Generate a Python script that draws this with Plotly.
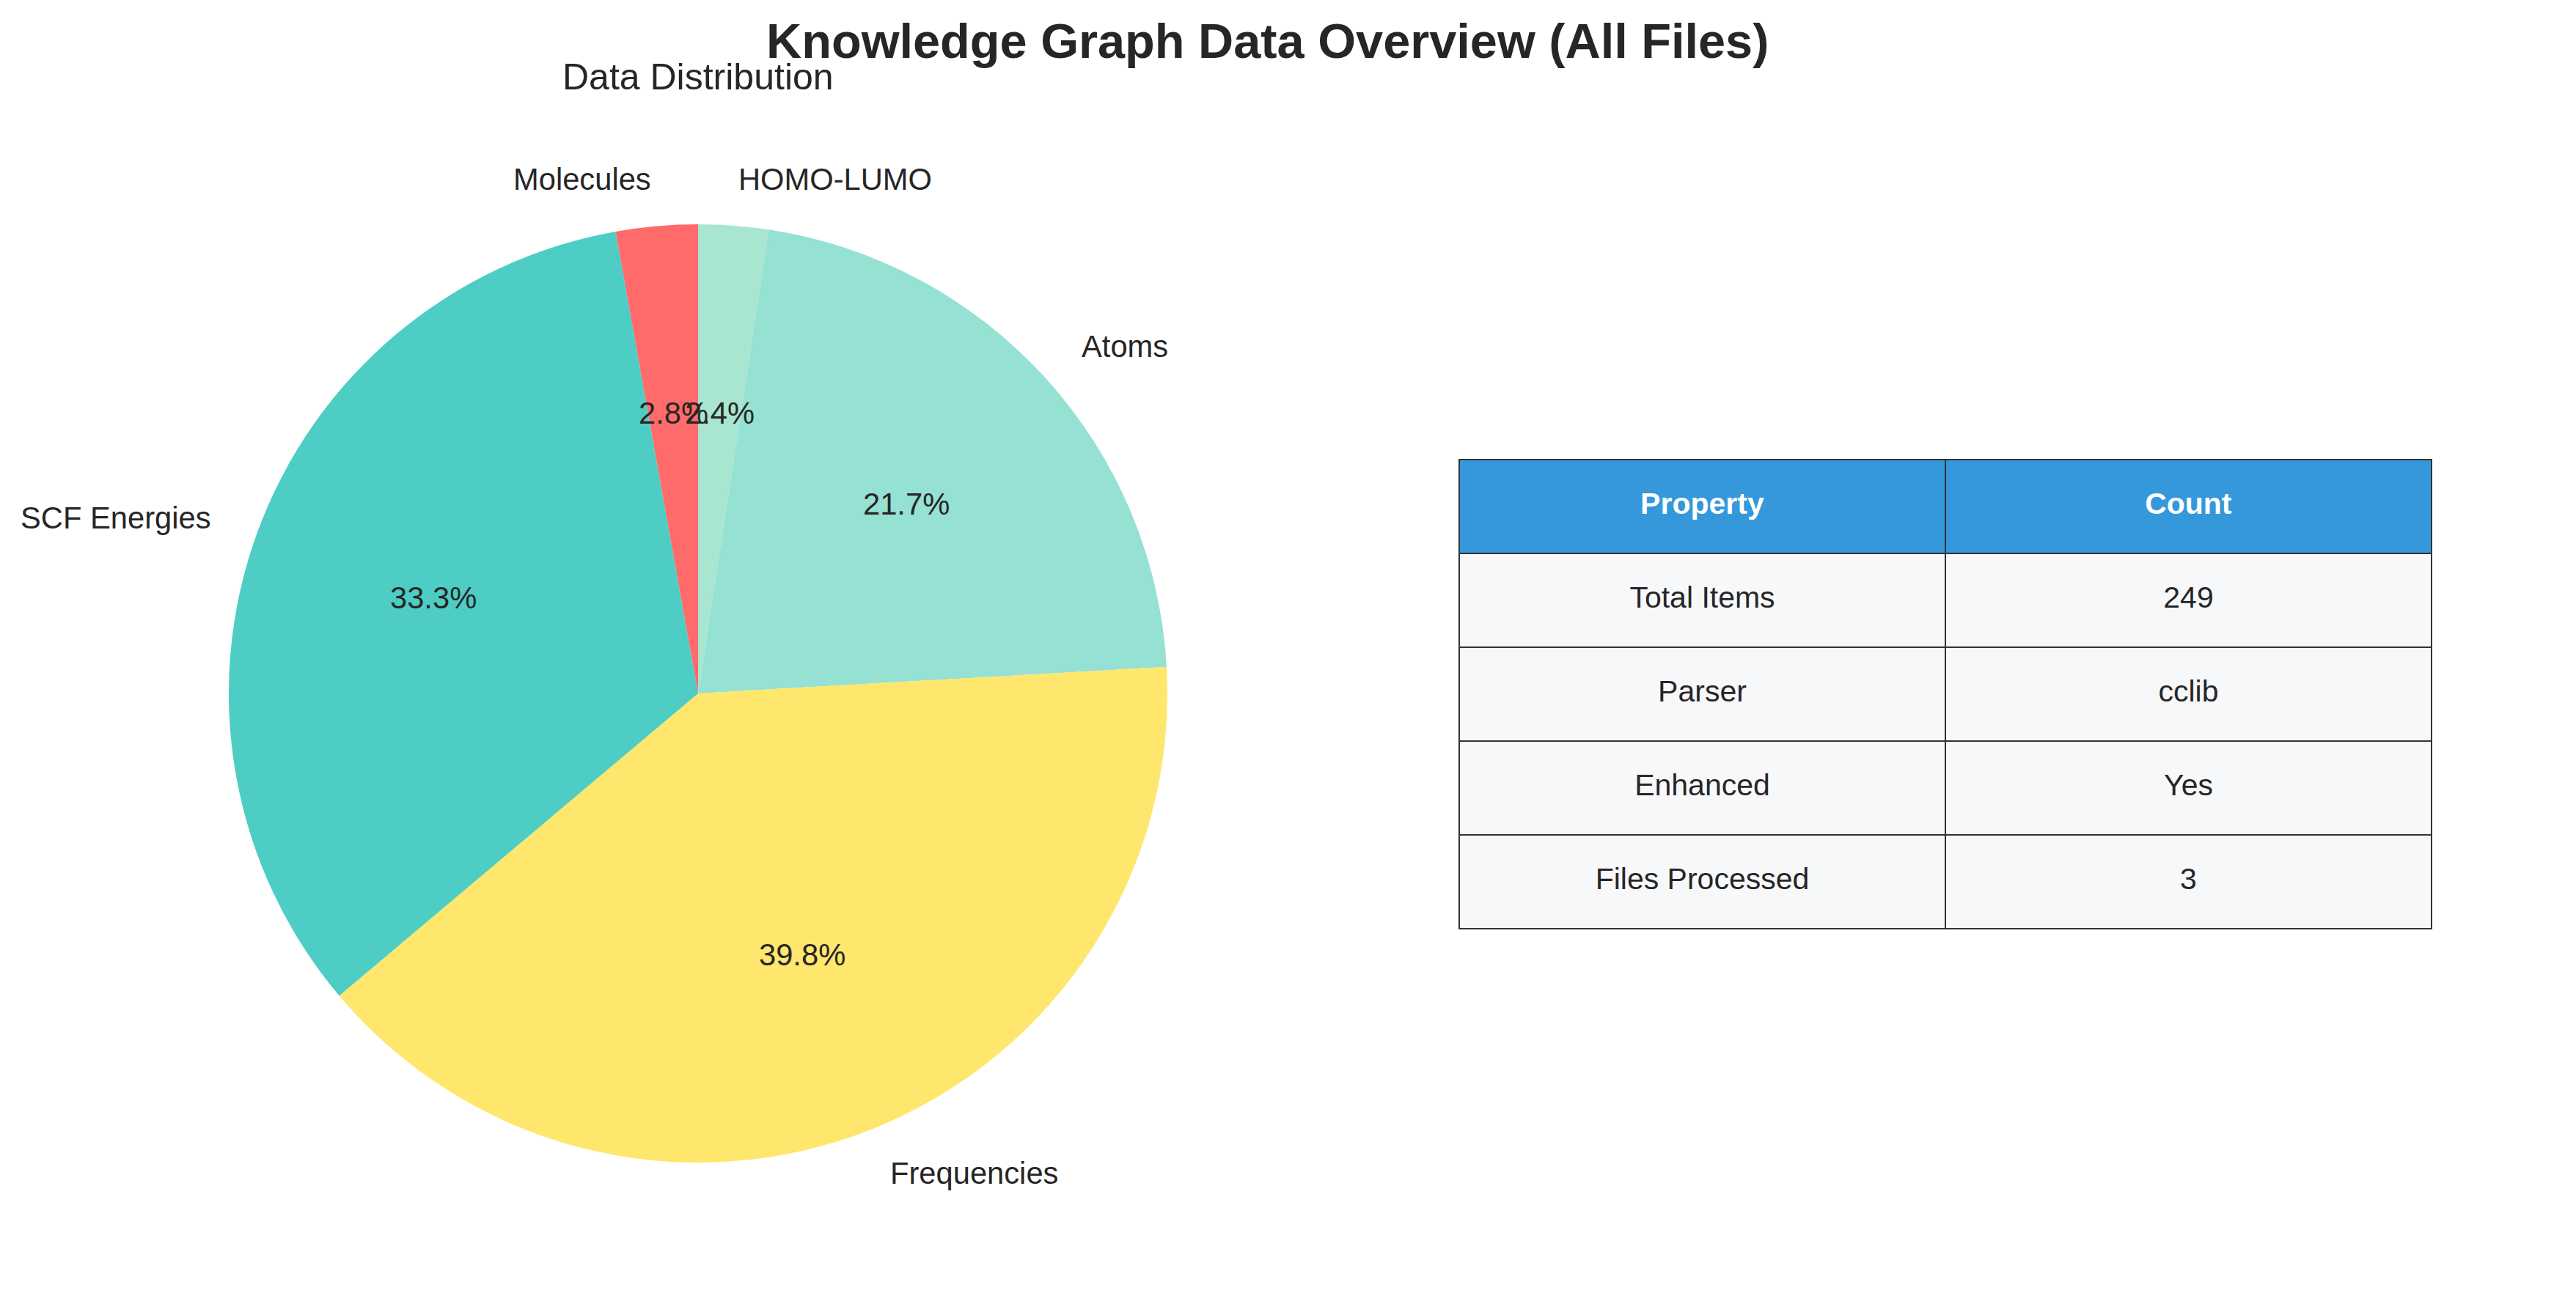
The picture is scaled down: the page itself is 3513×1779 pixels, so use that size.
import math
import plotly.graph_objects as go

W, H = 3513, 1779

categories = ["Molecules", "SCF Energies", "Frequencies", "Atoms", "HOMO-LUMO"]
counts = [7, 83, 99, 54, 6]
colors = ["#FF6B6B", "#4ECDC4", "#FFE66D", "#95E1D3", "#A8E6CF"]

table_props = ["Total Items", "Parser", "Enhanced", "Files Processed"]
table_vals = ["249", "cclib", "Yes", "3"]
table_header = ["Property", "Count"]

FONT = "Liberation Sans, Arial, sans-serif"
TXT = "#262626"

# pie geometry (pixels)
cx, cy, R = 952, 946, 640
dom_x = [(cx - R) / W, (cx + R) / W]
dom_y = [1 - (cy + R) / H, 1 - (cy - R) / H]

fig = go.Figure()
# matplotlib draws counterclockwise from 90 deg; same layout = reversed order clockwise from 12 o'clock
fig.add_trace(go.Pie(
    labels=categories[::-1], values=counts[::-1], sort=False, direction="clockwise",
    rotation=0, marker=dict(colors=colors[::-1], line=dict(width=0)),
    textinfo="none", hoverinfo="label+percent", showlegend=False,
    domain=dict(x=dom_x, y=dom_y),
))

# labels (distance 1.1) and percentages (distance 0.6), matplotlib style
total = sum(counts)
ang = 90.0
annotations = []
for name, v in zip(categories, counts):
    span = 360.0 * v / total
    mid = math.radians(ang + span / 2)
    ang += span
    lx, ly = math.cos(mid), math.sin(mid)
    annotations.append(dict(
        x=(cx + 1.1 * R * lx) / W, y=1 - (cy - 1.1 * R * ly) / H,
        xref="paper", yref="paper", text=name, showarrow=False,
        xanchor="left" if lx > 0 else "right", yanchor="middle",
        font=dict(family=FONT, size=41.7, color=TXT)))
    annotations.append(dict(
        x=(cx + 0.6 * R * lx) / W, y=1 - (cy - 0.6 * R * ly) / H,
        xref="paper", yref="paper", text=f"{100 * v / total:.1f}%", showarrow=False,
        xanchor="center", yanchor="middle",
        font=dict(family=FONT, size=41.7, color=TXT)))

annotations.append(dict(
    x=cx / W, y=1 - 105 / H, xref="paper", yref="paper", text="Data Distribution",
    showarrow=False, xanchor="center", yanchor="middle",
    font=dict(family=FONT, size=50, color=TXT)))
annotations.append(dict(
    x=1728 / W, y=1 - 56 / H, xref="paper", yref="paper",
    text="<b>Knowledge Graph Data Overview (All Files)</b>",
    showarrow=False, xanchor="center", yanchor="middle",
    font=dict(family=FONT, size=66.7, color=TXT)))

# table (a small spacer line pushes the text down to the middle of each row)
PAD = "<span style='font-size:14px'>\u00a0</span><br>"
tx0, tx1, ty0, row_h = 1990, 3316, 627, 128
n_rows = len(table_props) + 1
fig.add_trace(go.Table(
    domain=dict(x=[tx0 / W, tx1 / W], y=[1 - (ty0 + row_h * n_rows + 4) / H, 1 - ty0 / H]),
    columnwidth=[1, 1],
    header=dict(values=[f"{PAD}<b>{h}</b>" for h in table_header],
                fill_color="#3498DB",
                line=dict(color="#333333", width=2), align="center", height=row_h,
                font=dict(family=FONT, size=41, color="white")),
    cells=dict(values=[[PAD + p for p in table_props], [PAD + s for s in table_vals]],
               fill_color="#F7F8FA",
               line=dict(color="#333333", width=2), align="center", height=row_h,
               font=dict(family=FONT, size=41, color=TXT)),
))

fig.update_layout(
    width=W, height=H, margin=dict(l=0, r=0, t=0, b=0),
    paper_bgcolor="white", plot_bgcolor="white",
    annotations=annotations, font=dict(family=FONT, color=TXT),
)
fig.write_html("out.html")
